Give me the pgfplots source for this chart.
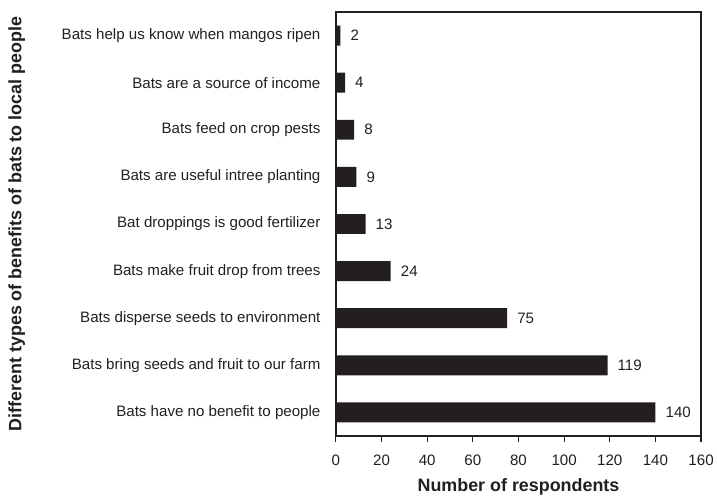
\documentclass[border=0pt]{standalone}
\usepackage{pgfplots}
\pgfplotsset{compat=1.18}
\usepackage{fontspec}
\setmainfont{Liberation Sans}
\definecolor{barblack}{HTML}{231F20}

\begin{document}
\begin{tikzpicture}
	\begin{axis}[
		xbar,
		scale only axis,
		width=366bp,
		height=425bp,
		xmin=0, xmax=160,
		ymin=-0.5, ymax=8.5,
		bar width=20bp,
		axis line style={barblack, line width=1.3bp},
		xtick={0,20,...,160},
		xtick pos=bottom,
		tick align=outside,
		major tick length=6bp,
		xtick style={barblack, line width=1.2bp},
		ytick={0,...,8},
		ytick style={draw=none},
		yticklabels={
			Bats have no benefit to people,
			Bats bring seeds and fruit to our farm,
			Bats disperse seeds to environment,
			Bats make fruit drop from trees,
			Bat droppings is good fertilizer,
			Bats are useful intree planting,
			Bats feed on crop pests,
			Bats are a source of income,
			Bats help us know when mangos ripen
		},
		ticklabel style={font=\fontsize{15.2}{18}\selectfont, text=barblack},
		yticklabel style={xshift=-6bp},
		xticklabel style={yshift=-9bp},
		/pgf/number format/assume math mode=true,
		xlabel={Number of respondents},
		ylabel={Different types of benefits of bats to local people},
		label style={font=\bfseries\fontsize{18}{21}\selectfont, text=barblack},
		xlabel style={yshift=-7bp},
		ylabel style={yshift=30bp},
		nodes near coords,
		nodes near coords style={font=\fontsize{15.2}{18}\selectfont, text=barblack, anchor=west, inner sep=0pt, xshift=10bp},
		point meta=x,
	]
	\addplot[fill=barblack, draw=none] coordinates {
		(140,0)
		(119,1)
		(75,2)
		(24,3)
		(13,4)
		(9,5)
		(8,6)
		(4,7)
		(2,8)
	};
	\end{axis}
	% white margin at the top and the left, as in the reference
	\path ([yshift=12bp]current axis.north);
	\path ([xshift=-5bp]current bounding box.west);
\end{tikzpicture}
\end{document}
